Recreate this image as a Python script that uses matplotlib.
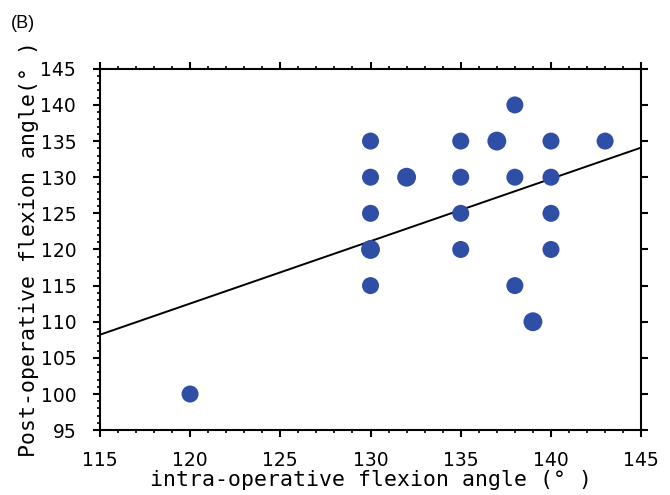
import matplotlib
matplotlib.use('Agg')
import matplotlib.pyplot as plt
import numpy as np
from matplotlib.ticker import MultipleLocator

# intra-operative vs post-operative flexion angle
intra_angle = [120, 130, 130, 130, 130, 130, 132, 135, 135, 135, 135,
               137, 138, 138, 138, 139, 140, 140, 140, 140, 143]
post_angle = [100, 135, 130, 125, 120, 115, 130, 135, 130, 125, 120,
              135, 140, 130, 115, 110, 135, 130, 125, 120, 135]
# overlapping cases drawn a bit larger
big_pts = [False, False, False, False, True, False, True, False, False, False, False,
           True, False, False, False, True, False, False, False, False, False]

# regression line end values
fit_x = [115, 145]
fit_y = [108.2, 134.1]

dot_color = '#2F4EA6'

def main():
	fig = plt.figure(figsize=(6.7, 4.95), dpi=100)
	ax = fig.add_axes([0.149, 0.131, 0.808, 0.730])

	sizes = [185 if b else 150 for b in big_pts]
	ax.scatter(intra_angle, post_angle, s=sizes, color=dot_color, edgecolors='none', zorder=3)
	ax.plot(fit_x, fit_y, color='black', lw=1.4, zorder=2)

	ax.set_xlim(115, 145)
	ax.set_ylim(95, 145)
	ax.xaxis.set_major_locator(MultipleLocator(5))
	ax.xaxis.set_minor_locator(MultipleLocator(1))
	ax.yaxis.set_major_locator(MultipleLocator(5))
	ax.yaxis.set_minor_locator(MultipleLocator(1))

	for sp in ax.spines.values():
		sp.set_linewidth(1.5)

	ax.tick_params(which='major', direction='out', length=5, width=1.5,
				   top=True, right=True)
	ax.tick_params(axis='x', which='major', pad=10)
	ax.tick_params(axis='y', which='major', pad=12)
	ax.tick_params(which='minor', direction='out', length=2.5, width=1.2,
				   top=True, right=False)

	for lab in ax.get_xticklabels() + ax.get_yticklabels():
		lab.set_family('DejaVu Sans')
		lab.set_fontsize(13.5)

	ax.set_xlabel('intra-operative flexion angle (° )', family='DejaVu Sans Mono',
				  fontsize=15.5, labelpad=0)
	ax.set_ylabel('Post-operative flexion angle(° )', family='DejaVu Sans Mono',
				  fontsize=15.5, labelpad=1)

	fig.text(0.016, 0.97, '(B)', family='Liberation Sans', fontsize=13, va='top', ha='left')

	plt.savefig('out.png', dpi=100)

if __name__ == '__main__':
	main()
